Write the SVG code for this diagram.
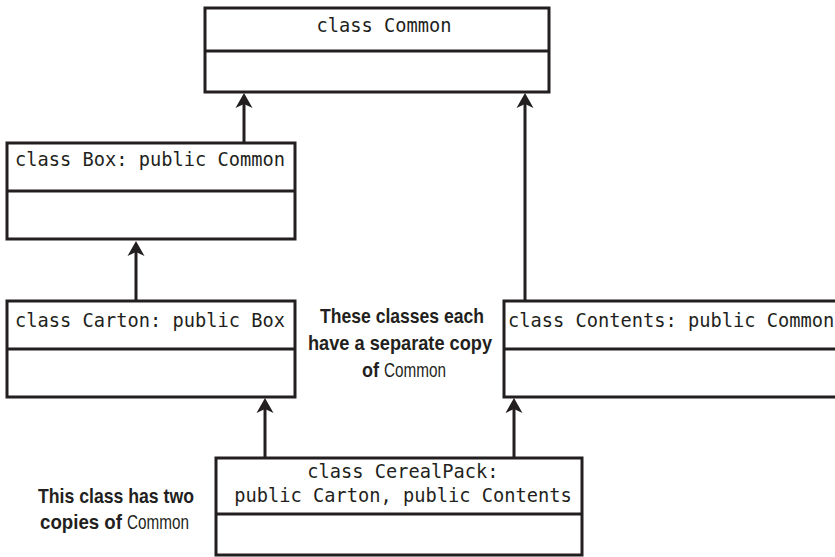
<svg xmlns="http://www.w3.org/2000/svg" width="835" height="557" viewBox="0 0 835 557">
<defs>
<style>
.box{fill:#fff;stroke:#231f20;stroke-width:3}
.div{stroke:#231f20;stroke-width:3}
.code{font-family:"DejaVu Sans Mono","Liberation Mono",monospace;font-size:18.7px;fill:#231f20}
.note{font-family:"Liberation Sans","Arial",sans-serif;font-weight:bold;font-size:21px;fill:#231f20}
.mid{text-anchor:middle}
.reg{font-family:"Liberation Sans","Arial",sans-serif;font-size:20px;fill:#231f20}
.conn{stroke:#231f20;stroke-width:3;fill:none;marker-end:url(#arr)}
</style>
<marker id="arr" markerUnits="userSpaceOnUse" viewBox="-16 -10 17 20" refX="-11" refY="0" markerWidth="17" markerHeight="20" orient="auto">
<path d="M0,0 L-15,-8.5 L-11,0 L-15,8.5 Z" fill="#231f20"/>
</marker>
</defs>
<rect width="835" height="557" fill="#fff"/>
<g id="connectors">
<line class="conn" x1="244" y1="143" x2="244" y2="104"/>
<line class="conn" x1="136" y1="301" x2="136" y2="252"/>
<line class="conn" x1="525" y1="301" x2="525" y2="104"/>
<line class="conn" x1="265" y1="458" x2="265" y2="409"/>
<line class="conn" x1="514" y1="458" x2="514" y2="409"/>
</g>
<g id="common">
<rect class="box" x="205" y="8" width="344" height="84"/>
<line class="div" x1="205" y1="51" x2="549" y2="51"/>
<text class="code" x="384" y="32" text-anchor="middle">class Common</text>
</g>
<g id="box">
<rect class="box" x="7" y="143" width="288" height="96"/>
<line class="div" x1="7" y1="191" x2="295" y2="191"/>
<text class="code" x="15" y="166">class Box: public Common</text>
</g>
<g id="carton">
<rect class="box" x="7" y="301" width="288" height="96"/>
<line class="div" x1="7" y1="349" x2="295" y2="349"/>
<text class="code" x="15" y="327">class Carton: public Box</text>
</g>
<g id="contents">
<rect class="box" x="504" y="301" width="350" height="96"/>
<line class="div" x1="504" y1="349" x2="854" y2="349"/>
<text class="code" x="508" y="327">class Contents: public Common</text>
</g>
<g id="cerealpack">
<rect class="box" x="216" y="458" width="366" height="97"/>
<line class="div" x1="216" y1="514" x2="582" y2="514"/>
<text class="code" x="403" y="478" text-anchor="middle">class CerealPack:</text>
<text class="code" x="403" y="502" text-anchor="middle">public Carton, public Contents</text>
</g>
<g id="note-separate">
<text class="note mid" x="402" y="323" textLength="164" lengthAdjust="spacingAndGlyphs">These classes each</text>
<text class="note mid" x="400" y="350" textLength="184" lengthAdjust="spacingAndGlyphs">have a separate copy</text>
<text class="note" x="362" y="377" textLength="17" lengthAdjust="spacingAndGlyphs">of</text>
<text class="reg" x="384" y="377" textLength="62" lengthAdjust="spacingAndGlyphs">Common</text>
</g>
<g id="note-two">
<text class="note mid" x="116" y="503" textLength="156" lengthAdjust="spacingAndGlyphs">This class has two</text>
<text class="note" x="40" y="529" textLength="82" lengthAdjust="spacingAndGlyphs">copies of</text>
<text class="reg" x="127" y="529" textLength="62" lengthAdjust="spacingAndGlyphs">Common</text>
</g>
</svg>
